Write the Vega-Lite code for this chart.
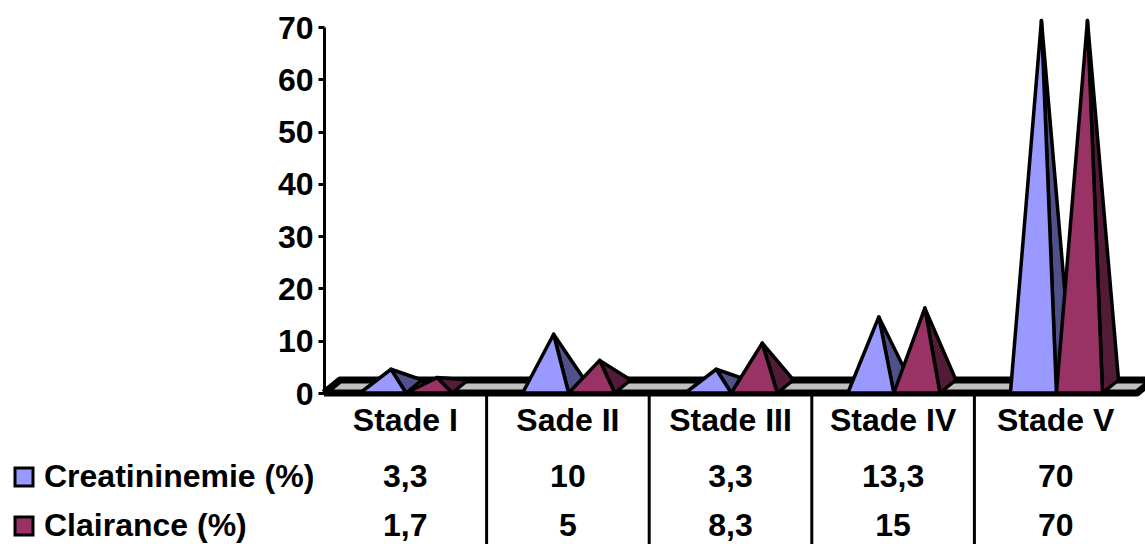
{
"$schema":"https://vega.github.io/schema/vega-lite/v6.json",
"width":813,"height":366,
"autosize":{"type":"none"},
"padding":{"left":324,"top":27,"right":8,"bottom":151},
"background":"white",
"config":{"view":{"stroke":null},"font":"Liberation Sans"},
"datasets":{
"floor":[
{"poly":"floor","vertex":1,"pos":0,"level":0,"depth":0},
{"poly":"floor","vertex":2,"pos":5,"level":0,"depth":0},
{"poly":"floor","vertex":3,"pos":5,"level":0,"depth":1},
{"poly":"floor","vertex":4,"pos":0,"level":0,"depth":1},
{"poly":"floor","vertex":5,"pos":0,"level":0,"depth":0}
],
"pyramids":[
{"poly":"I-C-side","shade":"creat-side","vertex":1,"pos":0.5045,"level":0,"depth":0},
{"poly":"I-C-side","shade":"creat-side","vertex":2,"pos":0.5045,"level":0,"depth":1},
{"poly":"I-C-side","shade":"creat-side","vertex":3,"pos":0.363,"level":3.3,"depth":0.5},
{"poly":"I-C-side","shade":"creat-side","vertex":4,"pos":0.5045,"level":0,"depth":0},
{"poly":"I-C-front","shade":"creat","vertex":1,"pos":0.2215,"level":0,"depth":0},
{"poly":"I-C-front","shade":"creat","vertex":2,"pos":0.5045,"level":0,"depth":0},
{"poly":"I-C-front","shade":"creat","vertex":3,"pos":0.363,"level":3.3,"depth":0.5},
{"poly":"I-C-front","shade":"creat","vertex":4,"pos":0.2215,"level":0,"depth":0},
{"poly":"I-K-side","shade":"clair-side","vertex":1,"pos":0.788,"level":0,"depth":0},
{"poly":"I-K-side","shade":"clair-side","vertex":2,"pos":0.788,"level":0,"depth":1},
{"poly":"I-K-side","shade":"clair-side","vertex":3,"pos":0.646,"level":1.7,"depth":0.5},
{"poly":"I-K-side","shade":"clair-side","vertex":4,"pos":0.788,"level":0,"depth":0},
{"poly":"I-K-front","shade":"clair","vertex":1,"pos":0.5045,"level":0,"depth":0},
{"poly":"I-K-front","shade":"clair","vertex":2,"pos":0.788,"level":0,"depth":0},
{"poly":"I-K-front","shade":"clair","vertex":3,"pos":0.646,"level":1.7,"depth":0.5},
{"poly":"I-K-front","shade":"clair","vertex":4,"pos":0.5045,"level":0,"depth":0},
{"poly":"II-C-side","shade":"creat-side","vertex":1,"pos":1.5045,"level":0,"depth":0},
{"poly":"II-C-side","shade":"creat-side","vertex":2,"pos":1.5045,"level":0,"depth":1},
{"poly":"II-C-side","shade":"creat-side","vertex":3,"pos":1.363,"level":10,"depth":0.5},
{"poly":"II-C-side","shade":"creat-side","vertex":4,"pos":1.5045,"level":0,"depth":0},
{"poly":"II-C-front","shade":"creat","vertex":1,"pos":1.2215,"level":0,"depth":0},
{"poly":"II-C-front","shade":"creat","vertex":2,"pos":1.5045,"level":0,"depth":0},
{"poly":"II-C-front","shade":"creat","vertex":3,"pos":1.363,"level":10,"depth":0.5},
{"poly":"II-C-front","shade":"creat","vertex":4,"pos":1.2215,"level":0,"depth":0},
{"poly":"II-K-side","shade":"clair-side","vertex":1,"pos":1.788,"level":0,"depth":0},
{"poly":"II-K-side","shade":"clair-side","vertex":2,"pos":1.788,"level":0,"depth":1},
{"poly":"II-K-side","shade":"clair-side","vertex":3,"pos":1.646,"level":5,"depth":0.5},
{"poly":"II-K-side","shade":"clair-side","vertex":4,"pos":1.788,"level":0,"depth":0},
{"poly":"II-K-front","shade":"clair","vertex":1,"pos":1.5045,"level":0,"depth":0},
{"poly":"II-K-front","shade":"clair","vertex":2,"pos":1.788,"level":0,"depth":0},
{"poly":"II-K-front","shade":"clair","vertex":3,"pos":1.646,"level":5,"depth":0.5},
{"poly":"II-K-front","shade":"clair","vertex":4,"pos":1.5045,"level":0,"depth":0},
{"poly":"III-C-side","shade":"creat-side","vertex":1,"pos":2.5045,"level":0,"depth":0},
{"poly":"III-C-side","shade":"creat-side","vertex":2,"pos":2.5045,"level":0,"depth":1},
{"poly":"III-C-side","shade":"creat-side","vertex":3,"pos":2.363,"level":3.3,"depth":0.5},
{"poly":"III-C-side","shade":"creat-side","vertex":4,"pos":2.5045,"level":0,"depth":0},
{"poly":"III-C-front","shade":"creat","vertex":1,"pos":2.2215,"level":0,"depth":0},
{"poly":"III-C-front","shade":"creat","vertex":2,"pos":2.5045,"level":0,"depth":0},
{"poly":"III-C-front","shade":"creat","vertex":3,"pos":2.363,"level":3.3,"depth":0.5},
{"poly":"III-C-front","shade":"creat","vertex":4,"pos":2.2215,"level":0,"depth":0},
{"poly":"III-K-side","shade":"clair-side","vertex":1,"pos":2.788,"level":0,"depth":0},
{"poly":"III-K-side","shade":"clair-side","vertex":2,"pos":2.788,"level":0,"depth":1},
{"poly":"III-K-side","shade":"clair-side","vertex":3,"pos":2.646,"level":8.3,"depth":0.5},
{"poly":"III-K-side","shade":"clair-side","vertex":4,"pos":2.788,"level":0,"depth":0},
{"poly":"III-K-front","shade":"clair","vertex":1,"pos":2.5045,"level":0,"depth":0},
{"poly":"III-K-front","shade":"clair","vertex":2,"pos":2.788,"level":0,"depth":0},
{"poly":"III-K-front","shade":"clair","vertex":3,"pos":2.646,"level":8.3,"depth":0.5},
{"poly":"III-K-front","shade":"clair","vertex":4,"pos":2.5045,"level":0,"depth":0},
{"poly":"IV-C-side","shade":"creat-side","vertex":1,"pos":3.5045,"level":0,"depth":0},
{"poly":"IV-C-side","shade":"creat-side","vertex":2,"pos":3.5045,"level":0,"depth":1},
{"poly":"IV-C-side","shade":"creat-side","vertex":3,"pos":3.363,"level":13.3,"depth":0.5},
{"poly":"IV-C-side","shade":"creat-side","vertex":4,"pos":3.5045,"level":0,"depth":0},
{"poly":"IV-C-front","shade":"creat","vertex":1,"pos":3.2215,"level":0,"depth":0},
{"poly":"IV-C-front","shade":"creat","vertex":2,"pos":3.5045,"level":0,"depth":0},
{"poly":"IV-C-front","shade":"creat","vertex":3,"pos":3.363,"level":13.3,"depth":0.5},
{"poly":"IV-C-front","shade":"creat","vertex":4,"pos":3.2215,"level":0,"depth":0},
{"poly":"IV-K-side","shade":"clair-side","vertex":1,"pos":3.788,"level":0,"depth":0},
{"poly":"IV-K-side","shade":"clair-side","vertex":2,"pos":3.788,"level":0,"depth":1},
{"poly":"IV-K-side","shade":"clair-side","vertex":3,"pos":3.646,"level":15,"depth":0.5},
{"poly":"IV-K-side","shade":"clair-side","vertex":4,"pos":3.788,"level":0,"depth":0},
{"poly":"IV-K-front","shade":"clair","vertex":1,"pos":3.5045,"level":0,"depth":0},
{"poly":"IV-K-front","shade":"clair","vertex":2,"pos":3.788,"level":0,"depth":0},
{"poly":"IV-K-front","shade":"clair","vertex":3,"pos":3.646,"level":15,"depth":0.5},
{"poly":"IV-K-front","shade":"clair","vertex":4,"pos":3.5045,"level":0,"depth":0},
{"poly":"V-C-side","shade":"creat-side","vertex":1,"pos":4.5045,"level":0,"depth":0},
{"poly":"V-C-side","shade":"creat-side","vertex":2,"pos":4.5045,"level":0,"depth":1},
{"poly":"V-C-side","shade":"creat-side","vertex":3,"pos":4.363,"level":70,"depth":0.5},
{"poly":"V-C-side","shade":"creat-side","vertex":4,"pos":4.5045,"level":0,"depth":0},
{"poly":"V-C-front","shade":"creat","vertex":1,"pos":4.2215,"level":0,"depth":0},
{"poly":"V-C-front","shade":"creat","vertex":2,"pos":4.5045,"level":0,"depth":0},
{"poly":"V-C-front","shade":"creat","vertex":3,"pos":4.363,"level":70,"depth":0.5},
{"poly":"V-C-front","shade":"creat","vertex":4,"pos":4.2215,"level":0,"depth":0},
{"poly":"V-K-side","shade":"clair-side","vertex":1,"pos":4.788,"level":0,"depth":0},
{"poly":"V-K-side","shade":"clair-side","vertex":2,"pos":4.788,"level":0,"depth":1},
{"poly":"V-K-side","shade":"clair-side","vertex":3,"pos":4.646,"level":70,"depth":0.5},
{"poly":"V-K-side","shade":"clair-side","vertex":4,"pos":4.788,"level":0,"depth":0},
{"poly":"V-K-front","shade":"clair","vertex":1,"pos":4.5045,"level":0,"depth":0},
{"poly":"V-K-front","shade":"clair","vertex":2,"pos":4.788,"level":0,"depth":0},
{"poly":"V-K-front","shade":"clair","vertex":3,"pos":4.646,"level":70,"depth":0.5},
{"poly":"V-K-front","shade":"clair","vertex":4,"pos":4.5045,"level":0,"depth":0}
],
"table":[
{"tier":0,"column":0.5,"label":"Stade I"},
{"tier":0,"column":1.5,"label":"Sade II"},
{"tier":0,"column":2.5,"label":"Stade III"},
{"tier":0,"column":3.5,"label":"Stade IV"},
{"tier":0,"column":4.5,"label":"Stade V"},
{"tier":56,"column":0.5,"label":"3,3"},
{"tier":56,"column":1.5,"label":"10"},
{"tier":56,"column":2.5,"label":"3,3"},
{"tier":56,"column":3.5,"label":"13,3"},
{"tier":56,"column":4.5,"label":"70"},
{"tier":105,"column":0.5,"label":"1,7"},
{"tier":105,"column":1.5,"label":"5"},
{"tier":105,"column":2.5,"label":"8,3"},
{"tier":105,"column":3.5,"label":"15"},
{"tier":105,"column":4.5,"label":"70"}
],
"series":[
{"tier":56,"shade":"creat","name":"Creatininemie (%)"},
{"tier":105,"shade":"clair","name":"Clairance (%)"}
],
"dividers":[{"column":1},{"column":2},{"column":3},{"column":4}]
},
"encoding":{
"x":{"type":"quantitative","scale":{"domain":[0,5],"nice":false,"zero":false},"axis":null}
},
"resolve":{"scale":{"y":"independent"}},
"layer":[
{
"encoding":{
"y":{"type":"quantitative","scale":{"domain":[0,70],"nice":false},"axis":{"title":null,"values":[0,10,20,30,40,50,60,70],"grid":false,"domain":true,"domainColor":"black","domainWidth":3,"tickColor":"black","tickWidth":3,"tickSize":6,"labelFont":"Liberation Sans","labelFontWeight":"bold","labelFontSize":32,"labelColor":"black","labelPadding":5,"labelOffset":1}}
},
"layer":[
{
"data":{"name":"dividers"},
"mark":{"type":"rule","stroke":"black","strokeWidth":3},
"encoding":{"x":{"field":"column"},"y":{"datum":0},"y2":{"datum":-29}}
},
{
"data":{"name":"floor"},
"transform":[
{"calculate":"datum.pos + datum.depth * 0.0984","as":"seenPos"},
{"calculate":"datum.level + datum.depth * 2.486","as":"seenLevel"}
],
"mark":{"type":"line","fill":"#c0c0c0","stroke":"black","strokeWidth":7,"strokeJoin":"round"},
"encoding":{
"x":{"field":"seenPos"},
"y":{"field":"seenLevel"},
"detail":{"field":"poly"},
"order":{"field":"vertex"}
}
},
{
"data":{"name":"pyramids"},
"transform":[
{"calculate":"datum.pos + datum.depth * 0.0984","as":"seenPos"},
{"calculate":"datum.level + datum.depth * 2.486","as":"seenLevel"}
],
"mark":{"type":"line","stroke":"black","strokeWidth":3.5,"strokeJoin":"round"},
"encoding":{
"x":{"field":"seenPos"},
"y":{"field":"seenLevel"},
"fill":{"field":"shade","type":"nominal","scale":{"domain":["creat","creat-side","clair","clair-side"],"range":["#9999ff","#50508a","#993366","#521c38"]},"legend":null},
"detail":{"field":"poly"},
"order":{"field":"vertex"}
}
}
]
},
{
"encoding":{
"y":{"field":"tier","type":"quantitative","scale":{"domain":[0,105],"nice":false,"zero":false,"range":[394,499]},"axis":null}
},
"layer":[
{
"data":{"name":"table"},
"mark":{"type":"text","font":"Liberation Sans","fontWeight":"bold","fontSize":32,"fill":"black","align":"center","baseline":"middle"},
"encoding":{"x":{"field":"column"},"text":{"field":"label"}}
},
{
"data":{"name":"series"},
"mark":{"type":"text","font":"Liberation Sans","fontWeight":"bold","fontSize":32,"fill":"black","align":"left","baseline":"middle"},
"encoding":{"x":{"datum":-1.722},"text":{"field":"name"}}
},
{
"data":{"name":"series"},
"mark":{"type":"point","shape":"square","filled":true,"size":324,"stroke":"black","strokeWidth":3,"opacity":1},
"encoding":{
"x":{"datum":-1.845},
"fill":{"field":"shade","type":"nominal","scale":{"domain":["creat","creat-side","clair","clair-side"],"range":["#9999ff","#50508a","#993366","#521c38"]},"legend":null}
}
}
]
}
]
}
